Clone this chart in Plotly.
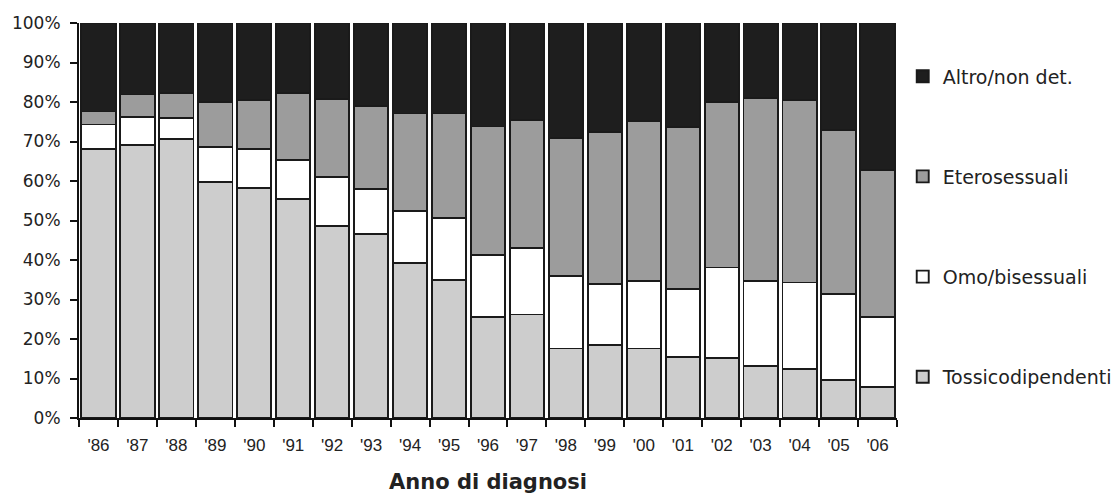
import plotly.graph_objects as go

years = ["'86", "'87", "'88", "'89", "'90", "'91", "'92", "'93", "'94", "'95", "'96",
         "'97", "'98", "'99", "'00", "'01", "'02", "'03", "'04", "'05", "'06"]

tossicodipendenti = [68.1, 69.2, 70.6, 59.7, 58.2, 55.5, 48.7, 46.6, 39.3, 34.9, 25.6,
                     26.2, 17.6, 18.4, 17.6, 15.5, 15.1, 13.1, 12.3, 9.6, 7.9]
omo_bisessuali = [6.2, 7.0, 5.4, 9.0, 10.0, 9.9, 12.4, 11.4, 13.0, 15.7, 15.6,
                  16.8, 18.4, 15.6, 17.1, 17.2, 23.0, 21.6, 22.0, 21.8, 17.7]
eterosessuali = [3.3, 5.7, 6.3, 11.2, 12.2, 16.9, 19.6, 21.1, 24.8, 26.5, 32.6,
                 32.5, 34.8, 38.4, 40.4, 41.0, 41.9, 46.2, 46.2, 41.4, 37.2]
altro = [22.4, 18.1, 17.7, 20.1, 19.6, 17.7, 19.3, 20.9, 22.9, 22.9, 26.2,
         24.5, 29.2, 27.6, 24.9, 26.3, 20.0, 19.1, 19.5, 27.2, 37.2]

series = [
    ("Tossicodipendenti", tossicodipendenti, "#cdcdcd", 4),
    ("Omo/bisessuali", omo_bisessuali, "#ffffff", 3),
    ("Eterosessuali", eterosessuali, "#9c9c9c", 2),
    ("Altro/non det.", altro, "#1e1e1e", 1),
]

fig = go.Figure()
for name, vals, color, rank in series:
    fig.add_trace(go.Bar(
        x=years, y=vals, name=name, legendgroup=name, legendrank=rank,
        marker=dict(color=color, line=dict(color="#1a1a1a", width=1.9)),
    ))

fig.update_layout(
    width=1111, height=489,
    barmode="stack", bargap=0.12,
    plot_bgcolor="white", paper_bgcolor="white",
    margin=dict(l=71, r=222, t=15, b=79, autoexpand=False),
    font=dict(family="DejaVu Sans", size=17, color="#222222"),
    legend=dict(
        traceorder="grouped", tracegroupgap=72.5,
        x=1.007, xanchor="left", y=0.913, yanchor="top",
        font=dict(family="DejaVu Sans", size=19, color="#222222"),
        bgcolor="rgba(0,0,0,0)", borderwidth=0,
    ),
    xaxis=dict(
        automargin=False,
        tickson="boundaries", ticks="outside", ticklen=7, tickwidth=1.5,
        tickcolor="#111111", showline=True, linecolor="#111111", linewidth=2,
        tickfont=dict(family="Liberation Sans, Arial", size=17, color="#222222"),
        ticklabelstandoff=11,
        title=dict(text="<b>Anno di diagnosi</b>", standoff=20,
                   font=dict(family="DejaVu Sans", size=21, color="#222222")),
        showgrid=False,
    ),
    yaxis=dict(
        automargin=False,
        range=[0, 100], dtick=10, ticksuffix="%", ticks="outside", ticklen=7,
        tickwidth=1.5, tickcolor="#111111", showline=True, linecolor="#111111",
        linewidth=2, showgrid=False, zeroline=False, ticklabelstandoff=6,
        tickfont=dict(family="DejaVu Sans", size=17, color="#222222"),
    ),
)

fig.write_html("out.html")
